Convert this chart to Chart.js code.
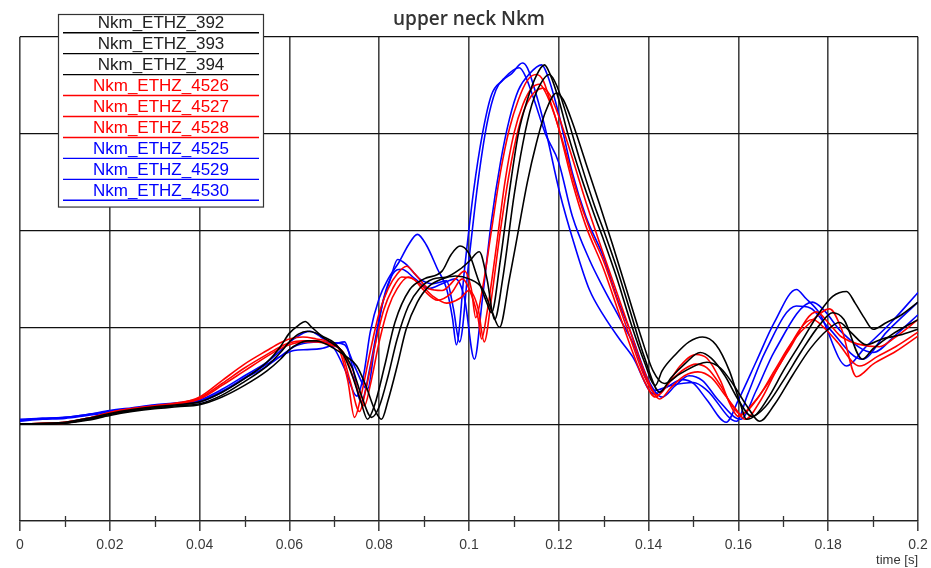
<!DOCTYPE html>
<html>
<head>
<meta charset="utf-8">
<title>upper neck Nkm</title>
<script src="https://cdn.jsdelivr.net/npm/chart.js@4"></script>
<style>
    body { margin: 0; background: #fff; }
    #wrap { width: 931px; height: 568px; }
</style>
</head>
<body>
<div id="wrap"><canvas id="nkmChart" width="931" height="568"></canvas></div>
<script>
"use strict";


// Upper neck Nkm over time, nine sled runs


// [time s, Nkm] pairs, one list per run
const nkm392 = [
    [0,0],[0.005,1],[0.01,2],[0.015,6],[0.02,11],[0.025,15],[0.03,18],[0.035,20],[0.04,23],[0.045,33],
    [0.05,47],[0.055,64],[0.058,80],[0.06,94],[0.062,102],[0.0635,106],[0.065,100],[0.067,92],[0.07,84],
    [0.072,72],[0.074,50],[0.076,22],[0.0774,5],[0.079,20],[0.0812,60],[0.0835,105],[0.0868,139],[0.09,150],
    [0.094,158],[0.096,175],[0.098,184],[0.1,176],[0.102,150],[0.104,125],[0.105,115],[0.107,170],[0.109,240],
    [0.111,300],[0.113,335],[0.115,360],[0.1168,371],[0.118,362],[0.12,335],[0.122,300],[0.125,255],[0.128,215],
    [0.13,190],[0.133,150],[0.136,105],[0.139,65],[0.1415,40],[0.143,55],[0.146,72],[0.149,85],[0.152,90],
    [0.155,82],[0.158,55],[0.1605,20],[0.1618,5],[0.164,10],[0.167,30],[0.17,55],[0.174,85],[0.178,115],
    [0.181,132],[0.1841,137],[0.186,125],[0.188,110],[0.19,98],[0.193,105],[0.196,112],[0.2,126]
];
const nkm393 = [
    [0,0],[0.005,0],[0.01,1],[0.015,5],[0.02,10],[0.025,14],[0.03,17],[0.035,19],[0.04,21],[0.045,30],
    [0.05,44],[0.055,60],[0.058,74],[0.06,85],[0.062,93],[0.064,96],[0.066,94],[0.068,88],[0.07,82],
    [0.072,74],[0.074,58],[0.076,30],[0.0783,7],[0.08,18],[0.082,50],[0.084,88],[0.0865,122],[0.089,140],
    [0.092,150],[0.095,152],[0.098,160],[0.1,168],[0.1023,178],[0.104,150],[0.1057,108],[0.1075,150],
    [0.11,235],[0.112,290],[0.114,330],[0.116,352],[0.1179,361],[0.1195,350],[0.122,315],[0.125,268],
    [0.128,225],[0.13,200],[0.133,160],[0.136,115],[0.139,70],[0.1425,33],[0.145,48],[0.148,62],[0.1515,74],
    [0.154,68],[0.157,50],[0.16,25],[0.163,8],[0.166,18],[0.17,45],[0.174,75],[0.178,102],[0.181,115],
    [0.1835,108],[0.1876,67],[0.19,78],[0.194,92],[0.2,108]
];
const nkm394 = [
    [0,0],[0.005,0],[0.01,1],[0.015,4],[0.02,9],[0.025,13],[0.03,16],[0.035,18],[0.04,20],[0.045,28],
    [0.05,40],[0.055,55],[0.058,67],[0.06,77],[0.062,83],[0.064,86],[0.066,86],[0.068,83],[0.07,78],
    [0.072,72],[0.075,60],[0.077,40],[0.079,15],[0.0805,5],[0.082,25],[0.084,60],[0.086,98],[0.0885,126],
    [0.091,142],[0.094,150],[0.097,153],[0.1,150],[0.103,140],[0.105,118],[0.1068,100],[0.109,150],
    [0.111,200],[0.113,250],[0.115,290],[0.117,322],[0.1195,342],[0.121,335],[0.123,312],[0.126,270],
    [0.129,228],[0.132,185],[0.135,140],[0.138,95],[0.141,55],[0.1435,42],[0.147,52],[0.153,64],[0.156,58],
    [0.159,40],[0.162,18],[0.1647,3],[0.168,20],[0.172,50],[0.176,78],[0.18,98],[0.1825,105],[0.185,95],
    [0.1885,82],[0.192,88],[0.196,92],[0.2,98]
];
const nkm4526 = [
    [0,0],[0.005,0],[0.01,1],[0.015,5],[0.02,11],[0.025,15],[0.03,18],[0.035,21],[0.04,28],[0.045,45],
    [0.05,62],[0.055,76],[0.058,84],[0.06,88],[0.063,90],[0.066,88],[0.069,85],[0.071,78],[0.073,45],
    [0.0745,7],[0.076,30],[0.078,75],[0.08,115],[0.082,140],[0.084,155],[0.0861,163],[0.088,155],[0.091,140],
    [0.094,138],[0.097,150],[0.099,158],[0.1005,140],[0.1015,110],[0.103,140],[0.105,200],[0.107,260],
    [0.109,305],[0.111,335],[0.113,355],[0.115,361],[0.1165,355],[0.118,335],[0.12,305],[0.123,250],
    [0.126,205],[0.13,160],[0.133,120],[0.136,80],[0.139,45],[0.1415,28],[0.144,40],[0.147,60],[0.1505,72],
    [0.153,68],[0.156,45],[0.158,22],[0.16,8],[0.163,20],[0.167,45],[0.171,75],[0.1774,116],[0.18,105],
    [0.183,90],[0.1914,80],[0.195,90],[0.2,108]
];
const nkm4527 = [
    [0,0],[0.005,1],[0.01,2],[0.015,6],[0.02,12],[0.025,16],[0.03,19],[0.035,22],[0.04,27],[0.045,42],
    [0.05,58],[0.055,72],[0.058,80],[0.06,84],[0.063,86],[0.066,86],[0.069,83],[0.0715,76],[0.0735,45],
    [0.0756,13],[0.077,35],[0.079,80],[0.081,118],[0.083,140],[0.085,152],[0.0875,150],[0.09,138],
    [0.093,128],[0.096,135],[0.0985,150],[0.1,140],[0.102,110],[0.1028,88],[0.104,115],[0.106,180],
    [0.108,250],[0.11,300],[0.112,330],[0.114,347],[0.1157,351],[0.117,343],[0.119,320],[0.121,290],
    [0.124,240],[0.127,200],[0.13,168],[0.133,128],[0.136,88],[0.139,50],[0.142,30],[0.145,45],[0.148,57],
    [0.1505,62],[0.153,58],[0.156,40],[0.1585,20],[0.1605,10],[0.164,25],[0.168,55],[0.172,85],[0.176,105],
    [0.1803,119],[0.183,98],[0.1863,49],[0.19,62],[0.195,75],[0.2,91]
];
const nkm4528 = [
    [0,0],[0.005,1],[0.01,2],[0.015,6],[0.02,12],[0.025,16],[0.03,19],[0.035,21],[0.04,26],[0.045,40],
    [0.05,55],[0.055,70],[0.058,78],[0.06,82],[0.063,85],[0.066,85],[0.069,82],[0.072,74],[0.0745,45],
    [0.0767,19],[0.078,40],[0.08,85],[0.082,120],[0.084,140],[0.0865,152],[0.089,145],[0.092,132],
    [0.095,125],[0.098,130],[0.1,138],[0.102,120],[0.1034,85],[0.105,130],[0.107,200],[0.109,260],
    [0.111,305],[0.113,332],[0.1164,347],[0.118,340],[0.12,318],[0.123,275],[0.126,230],[0.13,175],
    [0.133,135],[0.136,95],[0.139,55],[0.1425,26],[0.145,38],[0.148,50],[0.151,54],[0.154,48],[0.157,30],
    [0.1595,15],[0.1615,5],[0.165,25],[0.169,60],[0.1765,108],[0.179,100],[0.182,85],[0.187,60],[0.191,70],
    [0.195,80],[0.2,95]
];
const nkm4525 = [
    [0,4],[0.005,6],[0.01,7],[0.015,10],[0.02,14],[0.025,17],[0.03,20],[0.035,22],[0.04,25],[0.045,36],
    [0.05,50],[0.055,64],[0.058,76],[0.061,88],[0.0645,96],[0.067,90],[0.07,78],[0.0725,55],[0.075,29],
    [0.0765,50],[0.078,95],[0.08,130],[0.082,150],[0.0845,168],[0.0865,185],[0.0885,196],[0.0905,185],
    [0.093,160],[0.095,140],[0.0963,110],[0.0972,82],[0.099,160],[0.101,240],[0.103,300],[0.105,340],
    [0.1075,355],[0.1095,362],[0.1119,373],[0.113,368],[0.115,340],[0.117,305],[0.1202,239],[0.1235,185],
    [0.1268,139],[0.13,112],[0.1335,88],[0.1364,70],[0.1413,31],[0.144,38],[0.1475,46],[0.15,42],[0.153,25],
    [0.1573,2],[0.16,25],[0.164,65],[0.168,105],[0.1729,139],[0.175,130],[0.178,115],[0.1841,60],[0.188,78],
    [0.194,105],[0.2,136]
];
const nkm4529 = [
    [0,5],[0.005,6],[0.01,7],[0.015,10],[0.02,13],[0.025,16],[0.03,19],[0.035,21],[0.04,24],[0.045,34],
    [0.05,48],[0.055,62],[0.058,70],[0.061,76],[0.064,77],[0.067,78],[0.0723,85],[0.074,60],[0.076,23],
    [0.078,60],[0.0805,120],[0.0825,150],[0.0841,170],[0.086,165],[0.089,150],[0.092,145],[0.095,148],
    [0.0965,120],[0.0979,85],[0.1,170],[0.102,250],[0.104,310],[0.106,345],[0.108,358],[0.1112,368],
    [0.1125,360],[0.1145,335],[0.117,300],[0.12,270],[0.123,215],[0.1268,170],[0.13,140],[0.1335,110],
    [0.1364,85],[0.1413,35],[0.145,40],[0.15,43],[0.153,35],[0.1596,3],[0.162,30],[0.166,75],[0.1729,122],
    [0.176,120],[0.18,100],[0.1876,67],[0.193,95],[0.2,126]
];
const nkm4530 = [
    [0,3],[0.005,5],[0.01,6],[0.015,9],[0.02,12],[0.025,16],[0.03,19],[0.035,21],[0.04,23],[0.045,33],
    [0.05,47],[0.055,60],[0.058,70],[0.061,80],[0.064,84],[0.067,85],[0.07,84],[0.0723,82],[0.0745,60],
    [0.0774,36],[0.079,80],[0.081,130],[0.083,155],[0.085,160],[0.088,150],[0.091,140],[0.094,145],
    [0.097,150],[0.099,130],[0.1012,67],[0.103,130],[0.105,210],[0.107,270],[0.109,315],[0.111,345],
    [0.1135,362],[0.1162,371],[0.1175,360],[0.12,320],[0.123,260],[0.126,215],[0.13,172],[0.133,130],
    [0.136,95],[0.14,45],[0.143,28],[0.146,40],[0.149,50],[0.152,45],[0.1555,25],[0.1605,5],[0.164,35],
    [0.168,75],[0.1765,126],[0.179,118],[0.183,95],[0.19,74],[0.195,92],[0.2,113]
];

const runNames = ["Nkm_ETHZ_392", "Nkm_ETHZ_393", "Nkm_ETHZ_394",
                  "Nkm_ETHZ_4526", "Nkm_ETHZ_4527", "Nkm_ETHZ_4528",
                  "Nkm_ETHZ_4525", "Nkm_ETHZ_4529", "Nkm_ETHZ_4530"];
const runValues = [nkm392, nkm393, nkm394, nkm4526, nkm4527, nkm4528, nkm4525, nkm4529, nkm4530];
const runColors = ["#000000", "#000000", "#000000",
                   "#ff0000", "#ff0000", "#ff0000",
                   "#0000ff", "#0000ff", "#0000ff"];


// short marks on the time axis between the labelled lines
const minorTicks = {
    id: "minorTicks",
    afterDatasetsDraw(chart) {
        let xs = chart.scales.x;
        let bottom = chart.chartArea.bottom;
        let c = chart.ctx;
        c.save();
        c.strokeStyle = "#333";
        c.lineWidth = 1.3;
        for (let i = 1; i < 20; i += 2) {
            let px = Math.round(xs.getPixelForValue(i * 0.01)) + 0.5;
            c.beginPath();
            c.moveTo(px, bottom - 5);
            c.lineTo(px, bottom + 6);
            c.stroke();
        }
        c.restore();
    }
};

// boxed legend in the upper left, text over a line in the run colour
const boxLegend = {
    id: "boxLegend",
    afterDraw(chart) {
        let c = chart.ctx;
        let left = 58.5, top = 14.5, width = 205, rowH = 20.95;
        let sets = chart.data.datasets;
        let height = rowH * sets.length + 4;
        c.save();
        c.fillStyle = "#fff";
        c.fillRect(left, top, width, height);
        c.strokeStyle = "#333";
        c.lineWidth = 1.2;
        c.strokeRect(left, top, width, height);
        c.font = "17px 'Liberation Sans', Arial, sans-serif";
        c.textAlign = "center";
        c.textBaseline = "alphabetic";
        sets.forEach(function(ds, i) {
            let lineY = 32.7 + rowH * i;
            c.fillStyle = ds.borderColor === "#000000" ? "#222" : ds.borderColor;
            c.fillText(ds.label, left + width / 2, lineY - 4.5);
            c.strokeStyle = ds.borderColor;
            c.lineWidth = 1.4;
            c.beginPath();
            c.moveTo(63, lineY);
            c.lineTo(259, lineY);
            c.stroke();
        });
        c.restore();
    }
};

let ctx_nkm = document.getElementById("nkmChart").getContext("2d");

let nkmChart = new Chart(ctx_nkm, {
    type: "line",
    data: {
        datasets: runNames.map(function(name, i) {
            return {
                label: name,
                data: runValues[i].map(function(p) { return {x: p[0], y: p[1]}; }),
                borderColor: runColors[i],
                backgroundColor: runColors[i],
                borderWidth: 1.6,
                pointRadius: 0,
                cubicInterpolationMode: "monotone",
                fill: false
            };
        })
    },
    options: {
        responsive: false,
        animation: false,
        layout: {
            padding: {left: 20, right: 13, top: 3, bottom: 1}
        },
        plugins: {
            legend: {
                display: false
            },
            tooltip: {
                enabled: false
            },
            title: {
                display: true,
                text: "upper neck Nkm",
                color: "#333",
                font: {family: "'Open Sans', sans-serif", size: 19, weight: 600},
                padding: {top: 5, bottom: 6}
            }
        },
        scales: {
            x: {
                type: "linear",
                min: 0,
                max: 0.2,
                ticks: {
                    stepSize: 0.01,
                    autoSkip: false,
                    maxRotation: 0,
                    color: "#3a3a3a",
                    padding: 7,
                    font: {family: "'Liberation Sans', Arial, sans-serif", size: 14, lineHeight: 1},
                    callback: function(value, index) {
                        return index % 2 === 0 ? String(Number(value.toFixed(2))) : "";
                    }
                },
                grid: {
                    color: function(c) {
                        return c.index % 2 === 0 ? "#444" : "rgba(0,0,0,0)";
                    },
                    lineWidth: 1.6,
                    tickLength: 10
                },
                border: {
                    display: true,
                    color: "#222",
                    width: 1.2
                },
                title: {
                    display: true,
                    text: "time [s]",
                    align: "end",
                    color: "#333",
                    font: {family: "'Liberation Sans', Arial, sans-serif", size: 13, lineHeight: 1},
                    padding: {top: 2, bottom: 0}
                },
                afterFit: function(scale) {
                    scale.height = 46;
                    scale.paddingLeft = 0;
                    scale.paddingRight = 0;
                }
            },
            y: {
                min: -100,
                max: 400,
                ticks: {
                    stepSize: 100,
                    display: false
                },
                grid: {
                    color: "#111",
                    lineWidth: 1.2,
                    drawTicks: false
                },
                border: {
                    display: false
                },
                afterFit: function(scale) {
                    scale.width = 0;
                }
            }
        }
    },
    plugins: [minorTicks, boxLegend]
});
</script>
</body>
</html>
